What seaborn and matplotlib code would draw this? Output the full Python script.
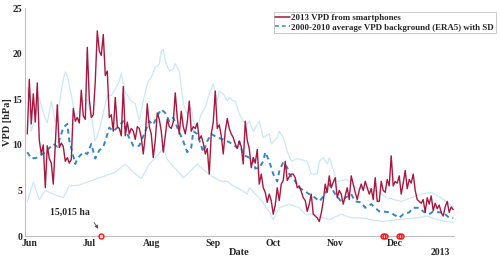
import matplotlib.dates as mdates
import matplotlib.pyplot as plt
import pandas as pd
import seaborn as sns

# daily VPD from smartphones, starting 2013-05-31
red_start = "2013-05-31"
red_vpd = [
    11.2, 17.2, 12.3, 15.6, 12.5, 16.8, 10.5, 9.0, 10.0, 5.3,
    9.9, 8.5, 8.0, 5.7, 10.0, 14.4, 9.7, 10.2, 9.8, 8.2,
    8.6, 8.0, 8.4, 14.0, 12.6, 13.0, 12.4, 16.0, 13.2, 12.8,
    20.7, 15.0, 13.0, 13.3, 17.0, 22.5, 20.3, 19.8, 22.1, 17.6,
    18.1, 13.0, 13.3, 11.5, 15.2, 12.0, 11.8, 11.0, 16.4, 11.0,
    12.5, 11.2, 11.8, 11.5, 10.6, 12.0, 11.8, 10.8, 9.0, 11.0,
    14.5, 12.0, 11.2, 8.6, 10.5, 13.5, 12.8, 11.5, 9.2, 11.0,
    12.8, 12.0, 11.8, 12.5, 15.7, 13.0, 11.2, 13.7, 12.0, 11.2,
    12.5, 14.8, 11.5, 12.0, 11.8, 12.4, 10.6, 11.0, 10.2, 9.0,
    9.6, 6.8, 11.2, 12.5, 15.9, 11.8, 12.2, 11.0, 9.0, 11.5,
    12.9, 11.8, 11.2, 10.8, 10.1, 9.6, 10.4, 9.8, 7.9, 12.6,
    10.5, 9.6, 7.5, 8.6, 8.0, 9.5, 5.7, 6.8, 5.3, 4.8,
    3.7, 4.6, 3.9, 2.4, 3.4, 5.3, 3.9, 5.7, 6.1, 8.2,
    6.1, 6.5, 6.8, 6.8, 6.4, 5.3, 5.5, 4.9, 4.2, 3.9,
    2.7, 3.5, 4.6, 2.4, 2.2, 2.0, 1.6, 2.5, 3.8, 5.7,
    4.8, 6.6, 5.3, 5.9, 6.4, 4.2, 5.0, 4.6, 3.5, 4.4,
    5.3, 4.0, 6.6, 5.7, 4.8, 4.0, 5.0, 5.7, 5.0, 6.0,
    5.3, 4.6, 5.2, 4.0, 6.4, 3.8, 3.8, 6.0, 5.0, 4.8,
    6.2, 5.5, 8.8, 5.5, 6.0, 5.8, 6.6, 4.6, 5.8, 7.2,
    5.2, 6.2, 5.8, 6.8, 5.0, 4.0, 3.8, 3.6, 4.0, 2.6,
    4.2, 3.5, 4.4, 2.8, 3.6, 3.0, 3.4, 2.6, 2.2, 3.2,
    3.8, 2.6, 3.2, 2.9,
]

# ERA5 2000-2010 background, days counted from 2013-06-01
base_date = "2013-06-01"
mean_day = [-1, 1, 4, 8, 12, 14, 17, 19, 20, 23, 24, 27, 29, 31, 33, 35, 37, 38, 40, 42,
            44, 47, 49, 52, 55, 58, 60, 62, 64, 66, 68, 70, 72, 74, 77, 79, 81, 82, 84, 87,
            89, 91, 94, 97, 100, 104, 105, 107, 110, 112, 113, 115, 117, 118, 120, 122, 124,
            125, 127, 129, 130, 133, 135, 138, 140, 143, 145, 148, 150, 153, 156, 158, 161,
            163, 166, 168, 171, 173, 175, 177, 180, 182, 185, 187, 190, 192, 195, 197, 200,
            202, 205, 207, 210, 212]
mean_vpd = [9.2, 8.5, 8.6, 9.2, 10.1, 9.8, 11.9, 12.3, 10.5, 7.9, 8.5, 9.2, 9.0, 10.1, 8.5,
            9.4, 9.8, 10.4, 11.9, 11.5, 11.9, 12.6, 11.2, 9.9, 9.9, 11.5, 12.6, 12.2, 13.2,
            13.9, 13.5, 12.6, 13.0, 11.9, 10.4, 9.2, 9.7, 11.5, 11.2, 9.2, 10.4, 11.2, 10.8,
            10.6, 10.3, 9.7, 10.4, 8.9, 8.6, 8.6, 7.4, 7.5, 8.2, 9.2, 8.2, 6.8, 6.0, 7.1, 8.1,
            7.5, 6.8, 6.0, 5.3, 4.9, 4.6, 4.2, 3.8, 4.6, 5.7, 4.6, 3.8, 4.2, 4.6, 3.8, 3.7,
            3.1, 3.5, 3.1, 2.7, 2.7, 2.6, 2.4, 2.0, 2.4, 2.6, 3.1, 3.1, 2.7, 2.4, 2.7, 2.6,
            2.6, 2.0, 2.0]

upper_day = [-1, 1, 3, 5, 7, 9, 11, 13, 15, 17, 18, 19, 21, 23, 25, 27, 29, 31, 33, 35, 37,
             39, 41, 43, 45, 46, 48, 51, 53, 55, 57, 59, 61, 63, 65, 66, 67, 68, 70, 72, 73,
             75, 76, 77, 79, 81, 82, 84, 86, 88, 90, 92, 94, 95, 97, 99, 100, 102, 103, 105,
             107, 109, 110, 112, 115, 117, 120, 121, 124, 125, 127, 129, 131, 134, 139, 141,
             144, 145, 147, 149, 150, 154, 159, 164, 169, 174, 179, 186, 191, 196, 201, 206,
             210, 212]
upper_vpd = [16.3, 11.5, 13.0, 15.2, 13.5, 12.4, 14.8, 12.5, 14.6, 17.2, 18.0, 17.6, 15.5,
             13.0, 13.8, 14.8, 15.0, 13.2, 10.4, 11.6, 13.5, 15.4, 15.4, 16.1, 17.0, 17.8,
             15.8, 14.8, 14.5, 12.6, 14.8, 16.7, 17.4, 18.5, 18.8, 20.3, 20.5, 19.2, 18.1,
             18.3, 18.9, 18.1, 16.3, 14.5, 13.4, 14.1, 12.6, 11.9, 13.4, 14.1, 15.6, 16.7,
             14.8, 15.9, 15.6, 14.8, 15.2, 14.8, 14.8, 13.4, 12.6, 12.3, 12.6, 11.5, 12.6,
             10.8, 11.2, 10.1, 10.8, 11.5, 10.8, 9.3, 8.2, 8.5, 8.2, 6.8, 6.8, 8.2, 8.6, 7.9,
             8.6, 6.0, 6.2, 5.2, 5.3, 4.9, 4.2, 3.8, 4.2, 4.6, 4.8, 4.2, 3.5, 3.3]

lower_day = [-1, 2, 5, 8, 12, 17, 20, 25, 30, 35, 38, 43, 48, 52, 56, 60, 64, 67, 69, 72,
             74, 77, 80, 84, 87, 91, 96, 99, 102, 105, 109, 110, 115, 120, 122, 125, 130, 135,
             138, 143, 147, 150, 156, 161, 166, 171, 177, 184, 189, 194, 199, 204, 209, 212]
lower_vpd = [3.8, 5.9, 4.0, 5.0, 4.6, 4.2, 5.5, 5.6, 6.0, 6.4, 6.6, 7.0, 7.9, 7.0, 6.3, 7.9,
             8.8, 9.7, 8.4, 7.6, 7.2, 6.4, 7.0, 7.9, 7.3, 6.6, 6.0, 6.0, 5.5, 5.2, 4.6, 5.3,
             4.2, 2.7, 1.8, 3.1, 3.5, 3.1, 2.4, 2.4, 2.0, 1.8, 2.4, 2.0, 2.0, 1.8, 1.6, 1.8,
             1.9, 2.0, 2.2, 1.8, 1.6, 1.5]

# fire events marked on the time axis
fire_dates = ["2013-07-07", "2013-11-25", "2013-11-26", "2013-12-03", "2013-12-04"]

red_c = "#a8173f"
blue_c = "#3287c8"
sd_c = "#cbe8f8"
axis_c = "#c0c0c0"

base = pd.Timestamp(base_date)
red_x = pd.date_range(red_start, periods=len(red_vpd), freq="D")
mean_x = base + pd.to_timedelta(mean_day, unit="D")
upper_x = base + pd.to_timedelta(upper_day, unit="D")
lower_x = base + pd.to_timedelta(lower_day, unit="D")
fire_x = pd.to_datetime(fire_dates)

sns.set_style("white")
plt.rcParams["font.family"] = ["Liberation Serif", "DejaVu Serif"]
plt.rcParams["font.weight"] = "bold"

fig = plt.figure(figsize=(5, 2.6), dpi=100)
ax = fig.add_axes([0.05, 0.092, 0.858, 0.877])

sns.lineplot(x=upper_x, y=upper_vpd, ax=ax, color=sd_c, linewidth=0.9)
sns.lineplot(x=lower_x, y=lower_vpd, ax=ax, color=sd_c, linewidth=0.9)
sns.lineplot(x=mean_x, y=mean_vpd, ax=ax, color=blue_c, linewidth=1.4, linestyle=(0, (2.5, 2.0)))
sns.lineplot(x=red_x, y=red_vpd, ax=ax, color=red_c, linewidth=1.0)
ax.plot(fire_x, [0] * len(fire_x), "o", mfc="none", mec="#ff1010", ms=3.5, mew=1.0,
        clip_on=False, zorder=5)

ax.annotate("15,015 ha", xy=(base + pd.Timedelta(days=35.3), 0.55),
            xytext=(base + pd.Timedelta(days=20.5), 2.6), ha="center", va="center",
            fontsize=7, fontweight="bold",
            arrowprops=dict(arrowstyle="-|>", color="#555555", lw=0.6,
                            mutation_scale=5, relpos=(1.0, 0.0)))

ax.set_ylim(0, 25)
ax.set_yticks([0, 5, 10, 15, 20, 25])
ax.set_xlim(base - pd.Timedelta(days=2.15), base + pd.Timedelta(days=212.4))
ax.xaxis.set_major_locator(mdates.MonthLocator())
ax.xaxis.set_major_formatter(mdates.DateFormatter("%b"))

ax.set_xlabel("Date", fontsize=7.5, fontweight="bold", labelpad=0)
ax.set_ylabel("VPD [hPa]", fontsize=7.5, fontweight="bold")
ax.yaxis.set_label_coords(-0.03, 0.5)
ax.tick_params(direction="in", length=3, width=0.6, color=axis_c, labelsize=7, pad=2)
for lab in ax.get_xticklabels() + ax.get_yticklabels():
    lab.set_fontweight("bold")

sns.despine(ax=ax)
for side in ["left", "bottom"]:
    ax.spines[side].set_color(axis_c)
    ax.spines[side].set_linewidth(0.8)

fig.text(0.88, 0.03, "2013", ha="center", va="center", fontsize=7, fontweight="bold")

leg_handles = [
    plt.Line2D([], [], color=red_c, linewidth=1.1),
    plt.Line2D([], [], color=blue_c, linewidth=1.1, linestyle=(0, (2.5, 2.0))),
]
leg_labels = ["2013 VPD from smartphones", "2000-2010 average VPD background (ERA5) with SD"]
leg = fig.legend(leg_handles, leg_labels, loc="upper left", bbox_to_anchor=(0.547, 0.952),
                 fontsize=6.4, frameon=True, fancybox=False, handlelength=1.6,
                 handletextpad=0.2, labelspacing=0.1, borderpad=0.2, borderaxespad=0)
leg.get_frame().set_edgecolor("#bbbbbb")
leg.get_frame().set_linewidth(0.7)
for t in leg.get_texts():
    t.set_fontweight("bold")

fig.savefig("out.png", dpi=100)
